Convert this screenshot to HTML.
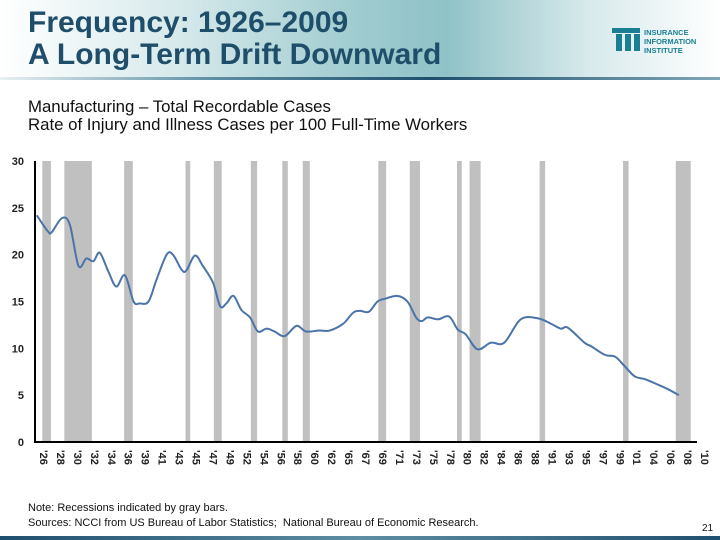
<!DOCTYPE html>
<html><head><meta charset="utf-8"><style>
body{margin:0;width:720px;height:540px;overflow:hidden;background:#fff;font-family:"Liberation Sans",Arial,sans-serif;position:relative}
#hdr{position:absolute;left:0;top:0;width:720px;height:78px;background:linear-gradient(90deg,#ffffff 0%,#d6e9eb 25%,#9ecbcf 50%,#8fc2c7 62%,#d8eaec 82%,#ffffff 100%)}
#hline{position:absolute;left:0;top:77px;width:720px;height:3px;background:linear-gradient(90deg,#e8f0f2 0%,#5d8ea3 30%,#1f4f6e 60%,#7fa7b8 100%)}
.t{position:absolute;left:28px;font-weight:bold;font-size:30px;color:#1f4e6b;line-height:32px}
.sub{position:absolute;left:28px;font-size:16.8px;color:#111;line-height:18px}
.note{position:absolute;left:28px;font-size:11px;color:#111}
#foot{position:absolute;left:0;top:536px;width:720px;height:4px;background:linear-gradient(90deg,#1f4f6e,#5d8ea3,#1f4f6e)}
</style></head><body>
<div id="hdr"></div>
<div id="hline"></div>
<div class="t" style="top:7px">Frequency: 1926–2009</div>
<div class="t" style="top:39px">A Long-Term Drift Downward</div>
<svg style="position:absolute;left:610px;top:26px" width="100" height="30">
<g fill="#1b7f94"><rect x="2" y="2" width="28" height="5"/><rect x="6" y="8" width="6" height="17"/><rect x="15" y="8" width="6" height="17"/><rect x="24" y="8" width="6" height="17"/></g>
<text x="34" y="9" font-size="7.5" font-weight="bold" fill="#1b7f94" font-family="Liberation Sans">INSURANCE</text>
<text x="34" y="18" font-size="7.5" font-weight="bold" fill="#1b7f94" font-family="Liberation Sans">INFORMATION</text>
<text x="34" y="27" font-size="7.5" font-weight="bold" fill="#1b7f94" font-family="Liberation Sans">INSTITUTE</text>
</svg>
<div class="sub" style="top:98px">Manufacturing – Total Recordable Cases</div>
<div class="sub" style="top:116px">Rate of Injury and Illness Cases per 100 Full-Time Workers</div>
<svg id="chart" style="position:absolute;left:0;top:0" width="720" height="540"></svg>
<div class="note" style="top:502px">Note: Recessions indicated by gray bars.</div>
<div class="note" style="top:517px">Sources: NCCI from US Bureau of Labor Statistics;&nbsp; National Bureau of Economic Research.</div>
<div style="position:absolute;left:702px;top:523px;font-size:10px;color:#111">21</div>
<div id="foot"></div>
<script>
const years=[1926.1,1927.5,1928,1929.3,1930.3,1931.4,1932.4,1933.3,1934.1,1935.2,1936.2,1937.3,1938.4,1939.2,1940.3,1941.3,1942.6,1943.4,1944.5,1945.1,1946.2,1947.2,1948.5,1949.4,1950.2,1951.1,1952.1,1953.2,1954.2,1955.3,1956.3,1957.6,1959.1,1960.3,1962,1963.3,1965,1966.3,1967.2,1968.3,1969.4,1970.4,1971.9,1973.2,1974.3,1975,1975.8,1977.1,1978.5,1979.6,1980.6,1982.1,1983.8,1985.5,1987.6,1989.8,1991.5,1992.7,1993.6,1995.7,1996.6,1998.3,1999.6,2000.8,2002.1,2003.4,2005.1,2006.4,2007.7];
const rates=[24.2,22.5,22.4,23.9,23.2,18.8,19.6,19.3,20.2,18.2,16.6,17.8,15.0,14.8,15.0,17.3,20.0,20.0,18.4,18.3,19.9,18.8,17.0,14.5,14.8,15.6,14.1,13.3,11.8,12.1,11.8,11.3,12.4,11.8,11.9,11.9,12.6,13.8,14.0,13.9,15.0,15.3,15.6,15.0,13.3,12.9,13.3,13.1,13.4,12.0,11.5,9.9,10.6,10.6,13.1,13.2,12.6,12.1,12.2,10.6,10.2,9.3,9.1,8.1,7.0,6.7,6.1,5.6,5.0];
const recStart=[1926.8,1929.6,1937.2,1945.0,1948.6,1953.3,1957.3,1959.9,1969.5,1973.5,1979.5,1981.1,1990.0,2000.6,2007.3];
const recEnd=[1927.9,1933.1,1938.3,1945.6,1949.6,1954.1,1958.0,1960.8,1970.5,1974.8,1980.1,1982.5,1990.7,2001.3,2009.2];
const yTicks=[0,5,10,15,20,25,30];
const xLabels=["'26","'28","'30","'32","'34","'36","'39","'41","'43","'45","'47","'49","'52","'54","'56","'58","'60","'62","'65","'67","'69","'71","'73","'75","'78","'80","'82","'84","'86","'88","'91","'93","'95","'97","'99","'01","'04","'06","'08","'10"];
const X0=36,X1=697,Y0=442,Y1=161;
const xs=y=>X0+(y-1926)*(X1-X0)/84;
const ys=v=>Y0-v*(Y0-Y1)/30;
const svg=document.getElementById('chart');const NS='http://www.w3.org/2000/svg';
function mk(t,a){const e=document.createElementNS(NS,t);for(const k in a)e.setAttribute(k,a[k]);svg.appendChild(e);return e;}
recStart.forEach((s,i)=>{const r=mk('rect',{x:xs(s),y:Y1,width:xs(recEnd[i])-xs(s),height:Y0-Y1,fill:'#c0c0c0'});

});
yTicks.forEach(v=>{const t=mk('text',{x:24,y:ys(v)+4,'text-anchor':'end','font-size':'11','font-weight':'bold','fill':'#222','font-family':'Liberation Sans'});t.textContent=v;

});
xLabels.forEach((l,i)=>{const x=X0+i*(X1-X0)/(xLabels.length-1);const t=mk('text',{transform:`translate(${x+4},${Y0+8}) rotate(90)`,'font-size':'11','font-weight':'bold','fill':'#222','font-family':'Liberation Sans'});t.textContent=l;

});
const pts=years.map((y,i)=>[xs(y),ys(rates[i])]);
let d=`M${pts[0][0]},${pts[0][1]}`;
for(let i=0;i<pts.length-1;i++){const p0=pts[Math.max(i-1,0)],p1=pts[i],p2=pts[i+1],p3=pts[Math.min(i+2,pts.length-1)];
d+=` C${p1[0]+(p2[0]-p0[0])/6},${p1[1]+(p2[1]-p0[1])/6} ${p2[0]-(p3[0]-p1[0])/6},${p2[1]-(p3[1]-p1[1])/6} ${p2[0]},${p2[1]}`;}
const ln=mk('path',{d:d,fill:'none',stroke:'#4a74a8','stroke-width':'2'});


const ya=mk('line',{x1:X0-1,y1:Y1,x2:X0-1,y2:Y0+1,stroke:'#000','stroke-width':'2'});


const xa=mk('line',{x1:X0-2,y1:Y0,x2:X1,y2:Y0,stroke:'#000','stroke-width':'2'});


</script>
</body></html>
